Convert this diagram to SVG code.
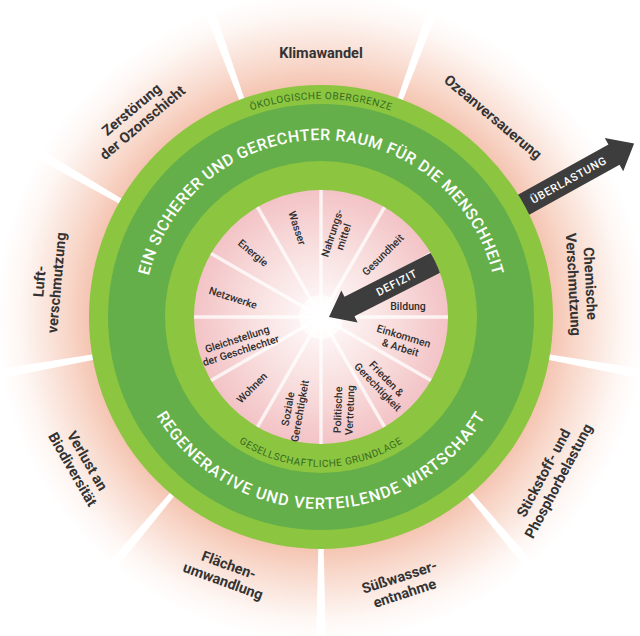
<svg xmlns="http://www.w3.org/2000/svg" xmlns:xlink="http://www.w3.org/1999/xlink" width="640" height="636" viewBox="0 0 640 636">
<style>
.lbl{font-family:Roboto,"Liberation Sans",sans-serif;font-weight:500;fill:#2d2d2d;text-anchor:middle}
.outer{font-size:14.5px;font-weight:700;fill:#333333}
.inner{font-size:10.5px}
.ringtxt{font-family:Roboto,"Liberation Sans",sans-serif;font-size:10px;fill:#356a20;letter-spacing:0.5px}
.big{font-family:Roboto,"Liberation Sans",sans-serif;font-weight:500;font-size:16px;fill:#ffffff}
.arrowtxt{font-family:Roboto,"Liberation Sans",sans-serif;font-weight:500;font-size:11px;fill:#ffffff;letter-spacing:0.8px;text-anchor:middle}
.arrow{fill:#3d3d3d}
.odiv{fill:#ffffff}
.idiv{stroke:#ffffff;stroke-width:3.5;stroke-opacity:0.75}
</style>
<defs>
<radialGradient id="gOuter" gradientUnits="userSpaceOnUse" cx="321" cy="317" r="325">
<stop offset="0.70" stop-color="#f4c1ae"/>
<stop offset="0.78" stop-color="#f8d6c8"/>
<stop offset="0.86" stop-color="#fbe8e0"/>
<stop offset="0.93" stop-color="#fef7f4"/>
<stop offset="1" stop-color="#ffffff"/>
</radialGradient>
<radialGradient id="gInner" gradientUnits="userSpaceOnUse" cx="321" cy="317" r="127">
<stop offset="0" stop-color="#ffffff"/>
<stop offset="0.18" stop-color="#fdf3f3"/>
<stop offset="0.6" stop-color="#f8dcdc"/>
<stop offset="1" stop-color="#f3c3c6"/>
</radialGradient>
<clipPath id="innerClip"><circle cx="321" cy="317" r="127"/></clipPath>
<path id="odivShape" d="M 318.5,95 L 323.5,95 L 326,-15 L 316,-15 Z"/>
<path id="arcTopOuter" d="M 103,317 A 218 218 0 0 1 539,317"/>
<path id="arcTopBig" d="M 144,317 A 177 177 0 0 1 498,317"/>
<path id="arcBotBig" d="M 129,317 A 192 192 0 0 0 513,317"/>
<path id="arcBotInner" d="M 171,317 A 150 150 0 0 0 471,317"/>
</defs>
<rect width="640" height="636" fill="#ffffff"/>

<g id="outer-zone">
<circle cx="321" cy="317" r="325" fill="url(#gOuter)"/>
<g id="outer-dividers">
<use xlink:href="#odivShape" class="odiv" transform="rotate(20 321 317)"/>
<use xlink:href="#odivShape" class="odiv" transform="rotate(-20 321 317)"/>
<use xlink:href="#odivShape" class="odiv" transform="rotate(60 321 317)"/>
<use xlink:href="#odivShape" class="odiv" transform="rotate(-60 321 317)"/>
<use xlink:href="#odivShape" class="odiv" transform="rotate(100 321 317)"/>
<use xlink:href="#odivShape" class="odiv" transform="rotate(-100 321 317)"/>
<use xlink:href="#odivShape" class="odiv" transform="rotate(140 321 317)"/>
<use xlink:href="#odivShape" class="odiv" transform="rotate(-140 321 317)"/>
<use xlink:href="#odivShape" class="odiv" transform="rotate(180 321 317)"/>
</g>
</g>

<g id="connectors">
<g id="arrow-ueberlastung" transform="translate(321,317) rotate(-29)">
<path class="arrow" d="M 200,-11.5 L 335,-11.5 L 335,-19 L 358,0 L 335,19 L 335,11.5 L 200,11.5 Z"/>
<text class="arrowtxt" x="283" y="4">ÜBERLASTUNG</text>
</g>
</g>

<g id="rings">
<circle id="ring-obergrenze" cx="321" cy="317" r="232" fill="#8cc540"/>
<circle id="ring-raum" cx="321" cy="317" r="213" fill="#64af49"/>
<circle id="ring-grundlage" cx="321" cy="317" r="156" fill="#8cc540"/>
<circle id="inner-core" cx="321" cy="317" r="127" fill="url(#gInner)"/>
<g id="inner-dividers">
<line class="idiv" x1="321" y1="317" x2="321" y2="190"/>
<line class="idiv" x1="321" y1="317" x2="321" y2="190" transform="rotate(30 321 317)"/>
<line class="idiv" x1="321" y1="317" x2="321" y2="190" transform="rotate(60 321 317)"/>
<line class="idiv" x1="321" y1="317" x2="321" y2="190" transform="rotate(90 321 317)"/>
<line class="idiv" x1="321" y1="317" x2="321" y2="190" transform="rotate(120 321 317)"/>
<line class="idiv" x1="321" y1="317" x2="321" y2="190" transform="rotate(150 321 317)"/>
<line class="idiv" x1="321" y1="317" x2="321" y2="190" transform="rotate(180 321 317)"/>
<line class="idiv" x1="321" y1="317" x2="321" y2="190" transform="rotate(210 321 317)"/>
<line class="idiv" x1="321" y1="317" x2="321" y2="190" transform="rotate(240 321 317)"/>
<line class="idiv" x1="321" y1="317" x2="321" y2="190" transform="rotate(270 321 317)"/>
<line class="idiv" x1="321" y1="317" x2="321" y2="190" transform="rotate(300 321 317)"/>
<line class="idiv" x1="321" y1="317" x2="321" y2="190" transform="rotate(330 321 317)"/>
</g>
<circle cx="321" cy="317" r="22" fill="#ffffff" fill-opacity="0.7"/>
<text class="ringtxt"><textPath xlink:href="#arcTopOuter" startOffset="50%" text-anchor="middle">ÖKOLOGISCHE OBERGRENZE</textPath></text>
<text class="big" letter-spacing="0.5"><textPath xlink:href="#arcTopBig" startOffset="50%" text-anchor="middle">EIN SICHERER UND GERECHTER RAUM FÜR DIE MENSCHHEIT</textPath></text>
<text class="big" letter-spacing="1"><textPath xlink:href="#arcBotBig" startOffset="50%" text-anchor="middle">REGENERATIVE UND VERTEILENDE WIRTSCHAFT</textPath></text>
<text class="ringtxt" letter-spacing="0.2"><textPath xlink:href="#arcBotInner" startOffset="50%" text-anchor="middle">GESELLSCHAFTLICHE GRUNDLAGE</textPath></text>
</g>

<g id="arrow-defizit" clip-path="url(#innerClip)">
<g transform="translate(329,317) rotate(-27)">
<path class="arrow" d="M 0,0 L 23,-18 L 23,-11 L 140,-11 L 140,11 L 23,11 L 23,18 Z"/>
<text class="arrowtxt" x="76" y="4">DEFIZIT</text>
</g>
</g>

<g id="boundaries">
<g id="b-klima"><text class="lbl outer" transform="translate(321,53)"><tspan x="0" y="5">Klimawandel</tspan></text></g>
<g id="b-ozean"><text class="lbl outer" transform="translate(493,117) rotate(40)"><tspan x="0" y="5">Ozeanversauerung</tspan></text></g>
<g id="b-chemie"><text class="lbl outer" transform="translate(582,284) rotate(87)"><tspan x="0" y="-3.5">Chemische</tspan><tspan x="0" y="13.5">Verschmutzung</tspan></text></g>
<g id="b-stickstoff"><text class="lbl outer" transform="translate(551,477) rotate(-62)"><tspan x="0" y="-3.5">Stickstoff- und</tspan><tspan x="0" y="13.5">Phosphorbelastung</tspan></text></g>
<g id="b-suesswasser"><text class="lbl outer" transform="translate(402,585) rotate(-18)"><tspan x="0" y="-3.5">Süßwasser-</tspan><tspan x="0" y="13.5">entnahme</tspan></text></g>
<g id="b-flaechen"><text class="lbl outer" transform="translate(226,573) rotate(20)"><tspan x="0" y="-3.5">Flächen-</tspan><tspan x="0" y="13.5">umwandlung</tspan></text></g>
<g id="b-biodiv"><text class="lbl outer" transform="translate(80,465) rotate(60)"><tspan x="0" y="-3.5">Verlust an</tspan><tspan x="0" y="13.5">Biodiversität</tspan></text></g>
<g id="b-luft"><text class="lbl outer" transform="translate(48,282) rotate(-85)"><tspan x="0" y="-3.5">Luft-</tspan><tspan x="0" y="13.5">verschmutzung</tspan></text></g>
<g id="b-ozon"><text class="lbl outer" transform="translate(137,116) rotate(-40)"><tspan x="0" y="-3.5">Zerstörung</tspan><tspan x="0" y="13.5">der Ozonschicht</tspan></text></g>
</g>

<g id="foundations">
<g id="f-wasser"><text class="lbl inner" transform="translate(297,228) rotate(72)"><tspan x="0" y="3.5">Wasser</tspan></text></g>
<g id="f-nahrung"><text class="lbl inner" transform="translate(338,235) rotate(-72)"><tspan x="0" y="-2.5">Nahrungs-</tspan><tspan x="0" y="9.5">mittel</tspan></text></g>
<g id="f-gesundheit"><text class="lbl inner" transform="translate(383,255) rotate(-45)"><tspan x="0" y="3.5">Gesundheit</tspan></text></g>
<g id="f-bildung"><text class="lbl inner" transform="translate(408,306)"><tspan x="0" y="3.5">Bildung</tspan></text></g>
<g id="f-einkommen"><text class="lbl inner" transform="translate(402,342) rotate(17)"><tspan x="0" y="-2.5">Einkommen</tspan><tspan x="0" y="9.5">&amp; Arbeit</tspan></text></g>
<g id="f-frieden"><text class="lbl inner" transform="translate(382,383) rotate(46)"><tspan x="0" y="-2.5">Frieden &amp;</tspan><tspan x="0" y="9.5">Gerechtigkeit</tspan></text></g>
<g id="f-politik"><text class="lbl inner" transform="translate(344,410) rotate(-88)"><tspan x="0" y="-2.5">Politische</tspan><tspan x="0" y="9.5">Vertretung</tspan></text></g>
<g id="f-sozial"><text class="lbl inner" transform="translate(294,410) rotate(-80)"><tspan x="0" y="-2.5">Soziale</tspan><tspan x="0" y="9.5">Gerechtigkeit</tspan></text></g>
<g id="f-wohnen"><text class="lbl inner" transform="translate(252,388) rotate(-45)"><tspan x="0" y="3.5">Wohnen</tspan></text></g>
<g id="f-gleich"><text class="lbl inner" transform="translate(239,345) rotate(-18)"><tspan x="0" y="-2.5">Gleichstellung</tspan><tspan x="0" y="9.5">der Geschlechter</tspan></text></g>
<g id="f-netz"><text class="lbl inner" transform="translate(233,298) rotate(18)"><tspan x="0" y="3.5">Netzwerke</tspan></text></g>
<g id="f-energie"><text class="lbl inner" transform="translate(253,253) rotate(40)"><tspan x="0" y="3.5">Energie</tspan></text></g>
</g>
</svg>
